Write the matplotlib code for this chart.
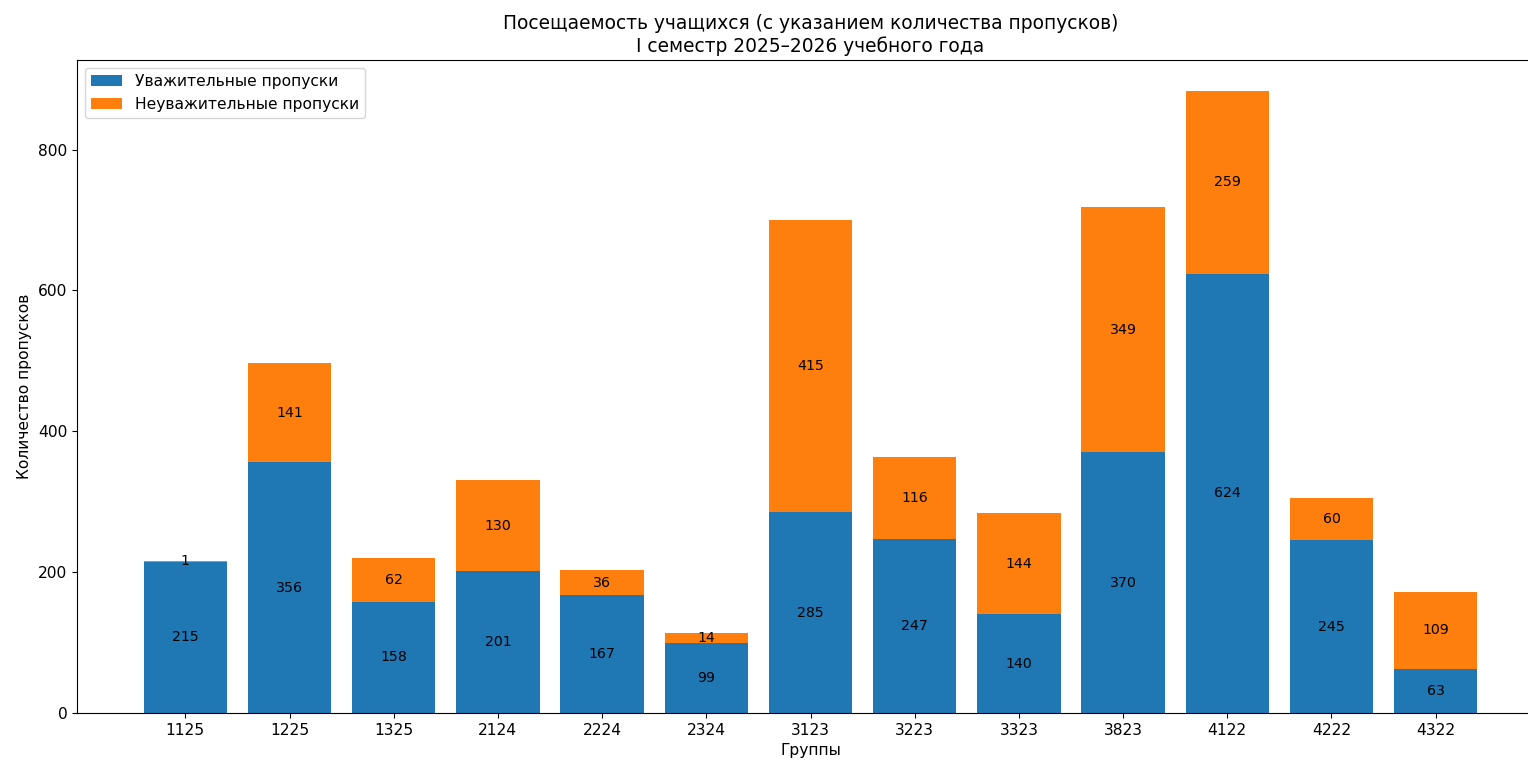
import numpy as np
import matplotlib
matplotlib.use("Agg")
import matplotlib.pyplot as plt

groups = ['1125', '1225', '1325', '2124', '2224', '2324', '3123',
          '3223', '3323', '3823', '4122', '4222', '4322']
excused = [215, 356, 158, 201, 167, 99, 285, 247, 140, 370, 624, 245, 63]
unexcused = [1, 141, 62, 130, 36, 14, 415, 116, 144, 349, 259, 60, 109]

plt.rcParams['font.size'] = 11.2

fig = plt.figure(figsize=(15.28, 7.62), dpi=100)
ax = fig.add_axes([77 / 1528, 49 / 762, 1467 / 1528, 653 / 762])

x = np.arange(len(groups))
b1 = ax.bar(x, excused, label='Уважительные пропуски', color='#1f77b4')
b2 = ax.bar(x, unexcused, bottom=excused, label='Неуважительные пропуски', color='#ff7f0e')
ax.bar_label(b1, label_type='center', fontsize=10.2)
ax.bar_label(b2, label_type='center', fontsize=10.2)

ax.set_xticks(x)
ax.set_xticklabels(groups)
ax.set_xlabel('Группы')
ax.set_ylabel('Количество пропусков')
ax.set_title('Посещаемость учащихся (с указанием количества пропусков)\nI семестр 2025–2026 учебного года',
             fontsize=13.4)
ax.legend(loc='upper left')

fig.savefig('out.png', dpi=100)
